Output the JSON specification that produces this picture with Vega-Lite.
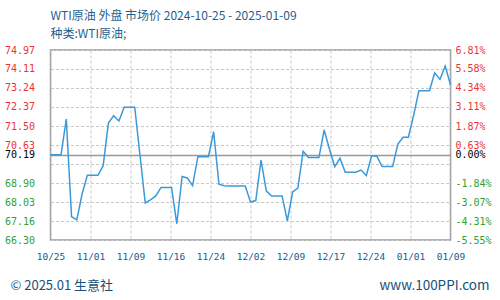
{
  "$schema": "https://vega.github.io/schema/vega-lite/v6.json",
  "width": 400,
  "height": 190,
  "autosize": {"type": "none"},
  "padding": {"left": 50.5, "top": 50, "right": 49.5, "bottom": 60},
  "background": "white",
  "title": {
    "text": "WTI原油 外盘 市场价 2024-10-25 - 2025-01-09",
    "subtitle": "种类:WTI原油;",
    "anchor": "start",
    "frame": "group",
    "font": "Noto Sans CJK SC",
    "fontSize": 12,
    "fontWeight": "normal",
    "color": "#1f5f8f",
    "subtitleFont": "Noto Sans CJK SC",
    "subtitleFontSize": 12,
    "subtitleColor": "#1f5f8f",
    "offset": 4,
    "subtitlePadding": 6
  },
  "config": {
    "view": {"stroke": "#999999", "strokeWidth": 1.5},
    "axis": {
      "domain": false,
      "ticks": false,
      "tickSize": 0,
      "labelFont": "DejaVu Sans Mono",
      "labelFontSize": 10,
      "labelOverlap": false,
      "labelFlush": false,
      "labelBound": false
    }
  },
  "data": {
    "values": [
      {"date": "2024-10-25", "price": 70.19},
      {"date": "2024-10-26", "price": 70.19},
      {"date": "2024-10-27", "price": 70.19},
      {"date": "2024-10-28", "price": 71.82},
      {"date": "2024-10-29", "price": 67.36},
      {"date": "2024-10-30", "price": 67.22},
      {"date": "2024-10-31", "price": 68.40},
      {"date": "2024-11-01", "price": 69.25},
      {"date": "2024-11-02", "price": 69.25},
      {"date": "2024-11-03", "price": 69.25},
      {"date": "2024-11-04", "price": 69.68},
      {"date": "2024-11-05", "price": 71.64},
      {"date": "2024-11-06", "price": 71.97},
      {"date": "2024-11-07", "price": 71.73},
      {"date": "2024-11-08", "price": 72.36},
      {"date": "2024-11-09", "price": 72.36},
      {"date": "2024-11-10", "price": 72.36},
      {"date": "2024-11-11", "price": 70.18},
      {"date": "2024-11-12", "price": 67.99},
      {"date": "2024-11-13", "price": 68.13},
      {"date": "2024-11-14", "price": 68.31},
      {"date": "2024-11-15", "price": 68.70},
      {"date": "2024-11-16", "price": 68.70},
      {"date": "2024-11-17", "price": 68.70},
      {"date": "2024-11-18", "price": 67.04},
      {"date": "2024-11-19", "price": 69.20},
      {"date": "2024-11-20", "price": 69.13},
      {"date": "2024-11-21", "price": 68.78},
      {"date": "2024-11-22", "price": 70.10},
      {"date": "2024-11-23", "price": 70.10},
      {"date": "2024-11-24", "price": 70.10},
      {"date": "2024-11-25", "price": 71.24},
      {"date": "2024-11-26", "price": 68.85},
      {"date": "2024-11-27", "price": 68.78},
      {"date": "2024-11-28", "price": 68.76},
      {"date": "2024-11-29", "price": 68.76},
      {"date": "2024-11-30", "price": 68.76},
      {"date": "2024-12-01", "price": 68.76},
      {"date": "2024-12-02", "price": 68.03},
      {"date": "2024-12-03", "price": 68.10},
      {"date": "2024-12-04", "price": 69.95},
      {"date": "2024-12-05", "price": 68.54},
      {"date": "2024-12-06", "price": 68.31},
      {"date": "2024-12-07", "price": 68.31},
      {"date": "2024-12-08", "price": 68.31},
      {"date": "2024-12-09", "price": 67.17},
      {"date": "2024-12-10", "price": 68.49},
      {"date": "2024-12-11", "price": 68.67},
      {"date": "2024-12-12", "price": 70.35},
      {"date": "2024-12-13", "price": 70.06},
      {"date": "2024-12-14", "price": 70.06},
      {"date": "2024-12-15", "price": 70.06},
      {"date": "2024-12-16", "price": 71.32},
      {"date": "2024-12-17", "price": 70.45},
      {"date": "2024-12-18", "price": 69.65},
      {"date": "2024-12-19", "price": 70.03},
      {"date": "2024-12-20", "price": 69.39},
      {"date": "2024-12-21", "price": 69.39},
      {"date": "2024-12-22", "price": 69.39},
      {"date": "2024-12-23", "price": 69.49},
      {"date": "2024-12-24", "price": 69.24},
      {"date": "2024-12-25", "price": 70.13},
      {"date": "2024-12-26", "price": 70.13},
      {"date": "2024-12-27", "price": 69.65},
      {"date": "2024-12-28", "price": 69.65},
      {"date": "2024-12-29", "price": 69.65},
      {"date": "2024-12-30", "price": 70.68},
      {"date": "2024-12-31", "price": 70.99},
      {"date": "2025-01-01", "price": 70.99},
      {"date": "2025-01-02", "price": 72.00},
      {"date": "2025-01-03", "price": 73.11},
      {"date": "2025-01-04", "price": 73.11},
      {"date": "2025-01-05", "price": 73.11},
      {"date": "2025-01-06", "price": 73.93},
      {"date": "2025-01-07", "price": 73.63},
      {"date": "2025-01-08", "price": 74.24},
      {"date": "2025-01-09", "price": 73.37}
    ]
  },
  "encoding": {
    "x": {
      "field": "date",
      "type": "temporal",
      "scale": {"type": "utc", "nice": false},
      "axis": {
        "title": null,
        "values": [1729814400000, 1730471040000, 1731127680000, 1731784320000, 1732440960000, 1733097600000, 1733754240000, 1734410880000, 1735067520000, 1735724160000, 1736380800000],
        "labelExpr": "utcFormat(datum.value, '%m/%d')",
        "labelFontSize": 9.5,
        "labelColor": "#1a5a8a",
        "labelPadding": 11,
        "grid": true,
        "gridColor": "#c8c8c8",
        "gridDash": [3, 2]
      }
    }
  },
  "layer": [
    {
      "mark": {"type": "line", "opacity": 0},
      "encoding": {
        "y": {
          "field": "price",
          "type": "quantitative",
          "scale": {"domain": [66.30, 74.97], "nice": false, "zero": false},
          "axis": {
            "orient": "left",
            "values": [66.3, 67.16, 68.03, 68.9, 69.76, 70.19, 70.63, 71.5, 72.37, 73.24, 74.11, 74.97],
            "labelExpr": "datum.value == 69.76 ? '' : format(datum.value, '.2f')",
            "labelPadding": 16,
            "labelColor": {"condition": [{"test": "datum.value > 70.19", "value": "#ee3333"}, {"test": "datum.value < 70.19", "value": "#33a033"}], "value": "#000000"},
            "grid": true,
            "gridColor": {"condition": {"test": "datum.value == 70.19", "value": "#999999"}, "value": "#c8c8c8"},
            "gridDash": {"condition": {"test": "datum.value == 70.19", "value": []}, "value": [3, 2]},
            "gridWidth": {"condition": {"test": "datum.value == 70.19", "value": 1.5}, "value": 1},
            "title": "© 2025.01 生意社",
            "titleAngle": 0,
            "titleX": -40.5,
            "titleY": 235,
            "titleAlign": "left",
            "titleBaseline": "middle",
            "titleFont": "Noto Sans CJK SC",
            "titleFontSize": 13,
            "titleFontWeight": "normal",
            "titleColor": "#15507a"
          }
        }
      }
    },
    {
      "mark": {"type": "line", "color": "#3a9ad9", "strokeWidth": 1.5},
      "encoding": {
        "y": {
          "field": "price",
          "type": "quantitative",
          "scale": {"domain": [66.30, 74.97], "nice": false, "zero": false},
          "axis": {
            "orient": "right",
            "values": [66.3, 67.16, 68.03, 68.9, 69.76, 70.19, 70.63, 71.5, 72.37, 73.24, 74.11, 74.97],
            "labelExpr": "['-5.55%','-4.31%','-3.07%','-1.84%','','0.00%','0.63%','1.87%','3.11%','4.34%','5.58%','6.81%'][indexof([66.3, 67.16, 68.03, 68.9, 69.76, 70.19, 70.63, 71.5, 72.37, 73.24, 74.11, 74.97], datum.value)]",
            "labelPadding": 4.5,
            "labelColor": {"condition": [{"test": "datum.value > 70.19", "value": "#ee3333"}, {"test": "datum.value < 70.19", "value": "#33a033"}], "value": "#000000"},
            "grid": false,
            "title": "www.100PPI.com",
            "titleAngle": 0,
            "titleX": 38.5,
            "titleY": 235,
            "titleAlign": "right",
            "titleBaseline": "middle",
            "titleFont": "Noto Sans CJK SC",
            "titleFontSize": 13.5,
            "titleFontWeight": "normal",
            "titleColor": "#15507a"
          }
        }
      }
    }
  ],
  "resolve": {"scale": {"y": "independent"}}
}
